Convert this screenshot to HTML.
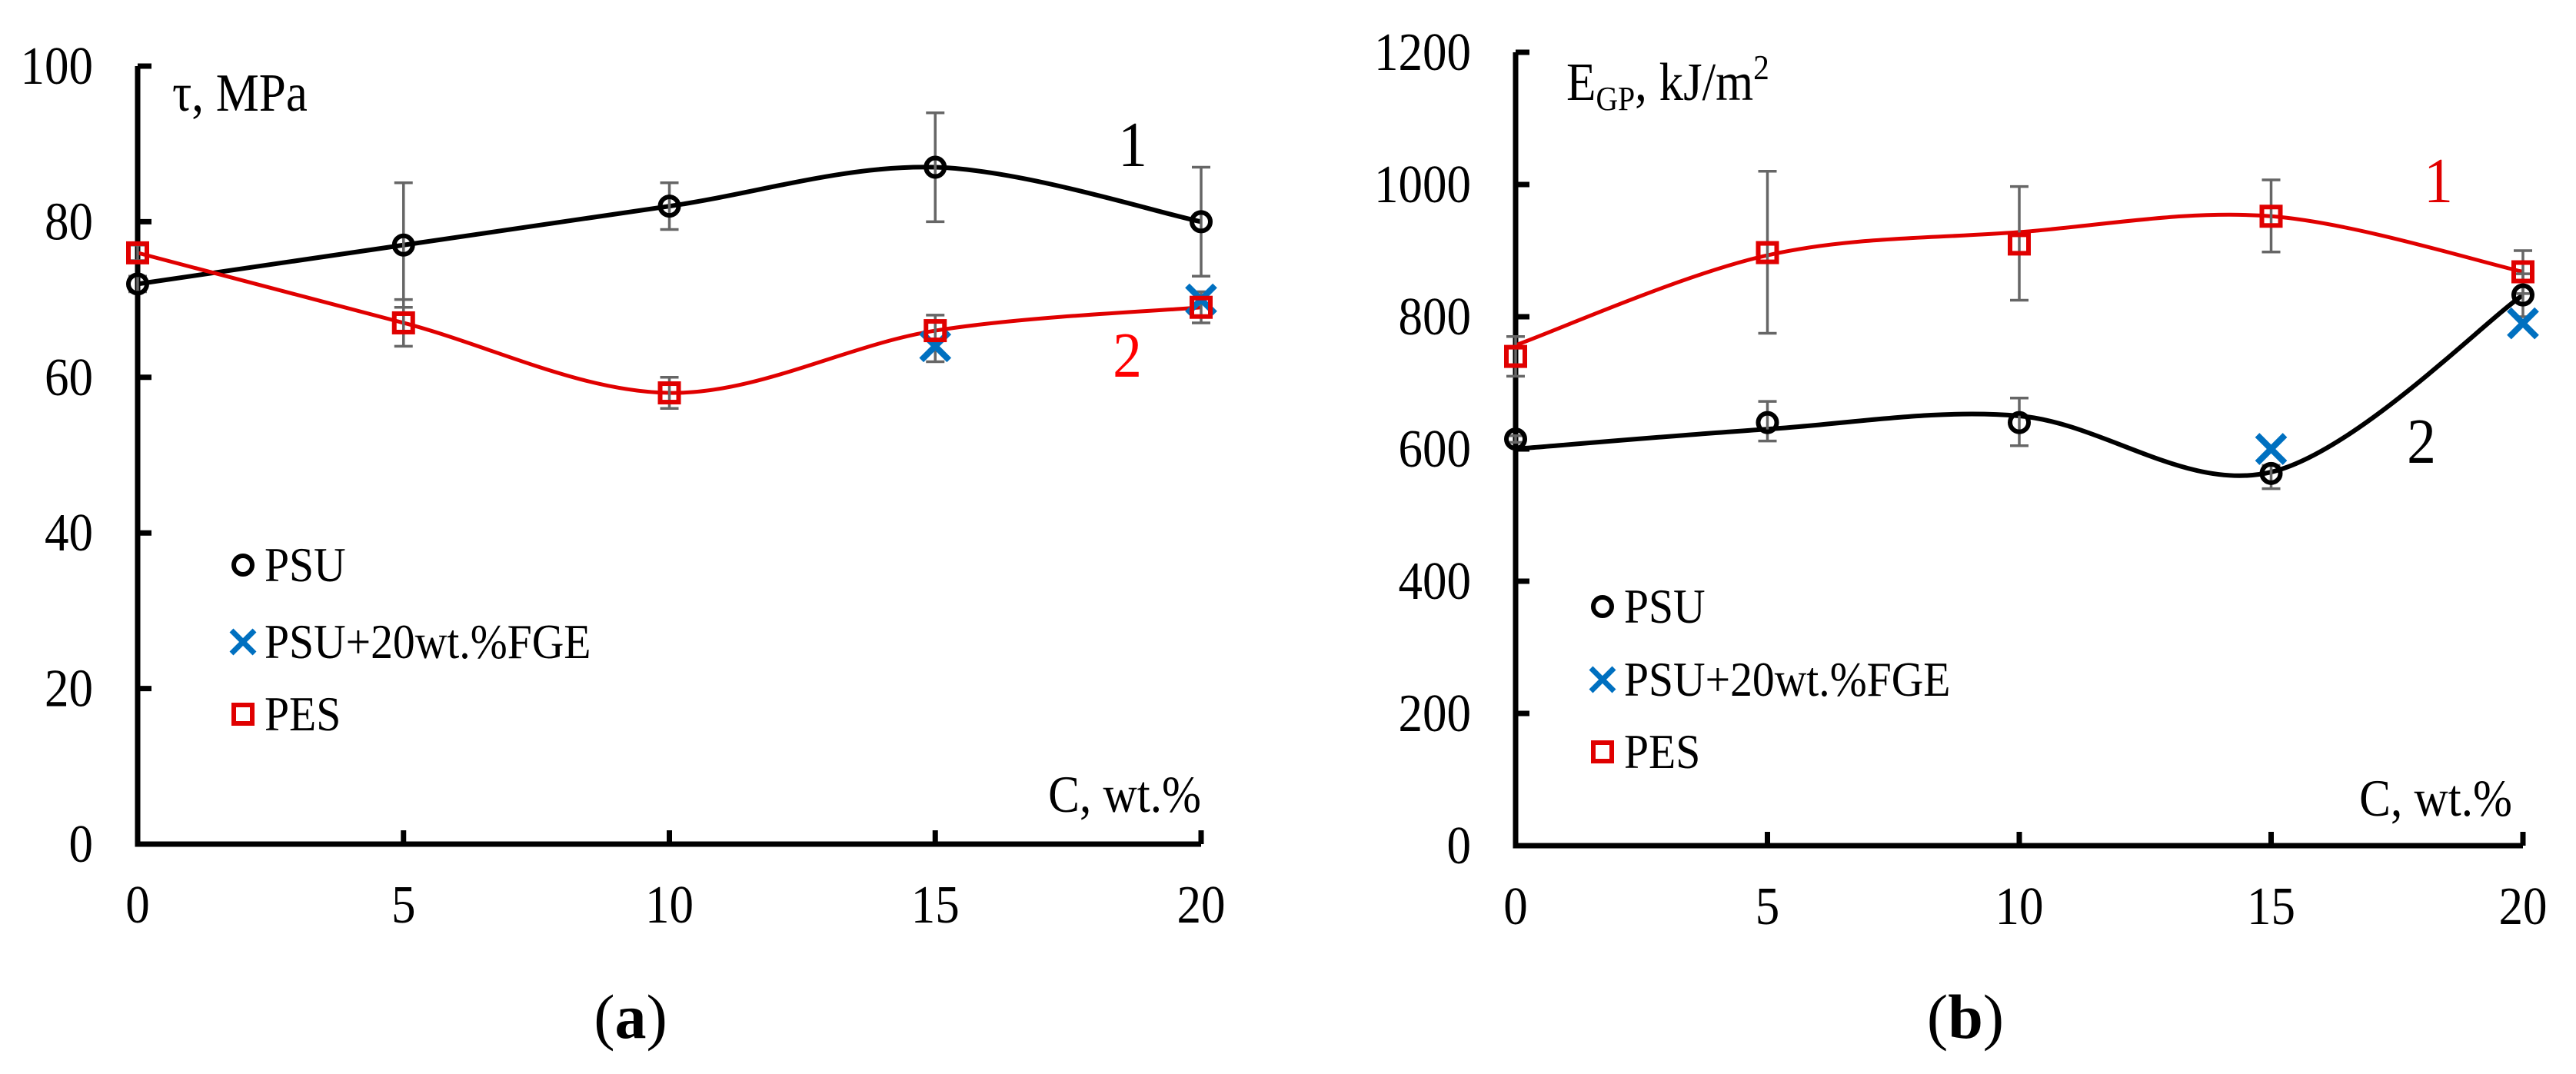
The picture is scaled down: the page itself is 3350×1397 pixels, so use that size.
<!DOCTYPE html>
<html><head><meta charset="utf-8"><style>
html,body{margin:0;padding:0;background:#fff;overflow:hidden;}
svg{display:block;}
text{font-family:"Liberation Serif",serif;}
</style></head><body>
<svg id="chart" width="3350" height="1397" viewBox="0 0 3350 1397" xmlns="http://www.w3.org/2000/svg"></svg>
<script>
const xCats = [0, 5, 10, 15, 20];
// Panel a
const aTicksY = [0, 20, 40, 60, 80, 100];
const aPSU = [72, 77, 82, 87, 80];
const aPSUlo = [71, 69, 79, 80, 73];
const aPSUhi = [73, 85, 85, 94, 87];
const aPSUtrend = [72, 77, 82, 87, 80];
const aPES = [76, 67, 58, 66, 69];
const aPESlo = [75, 64, 56, 62, 67];
const aPEShi = [77, 70, 60, 68, 71];
const aPEStrend = [76, 67, 58, 66, 69];
const aFGEx = [15, 20];
const aFGE = [64, 70];
// Panel b
const bTicksY = [0, 200, 400, 600, 800, 1000, 1200];
const bPSU = [615, 640, 640, 563, 833];
const bPSUlo = [610, 612, 605, 540, 800];
const bPSUhi = [620, 672, 677, 575, 865];
const bPSUtrend = [600, 630, 650, 565, 833];
const bPES = [740, 897, 910, 952, 868];
const bPESlo = [710, 775, 825, 898, 835];
const bPEShi = [770, 1020, 997, 1007, 900];
const bPEStrend = [757, 893, 928, 952, 868];
const bFGEx = [15, 20];
const bFGE = [600, 790];

const NS = "http://www.w3.org/2000/svg";
const svg = document.getElementById('chart');
const SX = 0.9;
function el(tag, attrs, parent) {
  const e = document.createElementNS(NS, tag);
  for (const k in attrs) e.setAttribute(k, attrs[k]);
  (parent || svg).appendChild(e);
  return e;
}
function txt(x, y, s, size, anchor, fill, parent) {
  const t = el('text', {x: x / SX, y: y, 'font-size': size, 'text-anchor': anchor || 'start', fill: fill || '#000', transform: `scale(${SX},1)`}, parent);
  t.textContent = s;
  return t;
}
function catmull(pts) {
  let d = `M${pts[0][0]},${pts[0][1]}`;
  for (let i = 0; i < pts.length - 1; i++) {
    const p0 = pts[Math.max(0, i - 1)], p1 = pts[i], p2 = pts[i + 1], p3 = pts[Math.min(pts.length - 1, i + 2)];
    const c1x = p1[0] + (p2[0] - p0[0]) / 6, c1y = p1[1] + (p2[1] - p0[1]) / 6;
    const c2x = p2[0] - (p3[0] - p1[0]) / 6, c2y = p2[1] - (p3[1] - p1[1]) / 6;
    d += ` C${c1x},${c1y} ${c2x},${c2y} ${p2[0]},${p2[1]}`;
  }
  return d;
}
function cross(x, y, h, w, parent) {
  return el('path', {d:`M${x-h},${y-h} L${x+h},${y+h} M${x-h},${y+h} L${x+h},${y-h}`, stroke:'#0070c0', 'stroke-width':w, fill:'none'}, parent);
}
function circ(x, y, parent) {
  return el('circle', {cx:x, cy:y, r:12, fill:'none', stroke:'#000', 'stroke-width':6}, parent);
}
function sq(x, y, parent) {
  return el('rect', {x:x-12, y:y-12, width:24, height:24, fill:'none', stroke:'#e00000', 'stroke-width':6}, parent);
}
function panel(cfg) {
  const g = el('g', {});
  
  
  const X = v => cfg.x0 + (cfg.x1 - cfg.x0) * v / 20;
  const Y = v => cfg.y0 - (cfg.y0 - cfg.y1) * v / cfg.ymax;
  const ax = el('path', {d:`M${cfg.x0},${cfg.y1} V${cfg.y0} H${cfg.x1}`, fill:'none', stroke:'#000', 'stroke-width':7}, g);
  
  
  cfg.ticksY.forEach(t => {
    const y = Y(t);
    const tk = el('line', {x1:cfg.x0, x2:cfg.x0 + 18, y1:y, y2:y, stroke:'#000', 'stroke-width':7}, g);
    
    
    const tx = txt(cfg.x0 - 58, y + 23, String(t), 70, 'end', '#000', g);
    
    
  });
  xCats.forEach(c => {
    const x = X(c);
    const tk = el('line', {x1:x, x2:x, y1:cfg.y0 - 18, y2:cfg.y0, stroke:'#000', 'stroke-width':7}, g);
    
    
    const tx = txt(x, cfg.y0 + 102, String(c), 70, 'middle', '#000', g);
    
    
  });
  const c1 = el('path', {d:catmull(xCats.map((c,i)=>[X(c),Y(cfg.psuT[i])])), fill:'none', stroke:'#000', 'stroke-width':6}, g);
  
  
  const c2 = el('path', {d:catmull(xCats.map((c,i)=>[X(c),Y(cfg.pesT[i])])), fill:'none', stroke:'#e00000', 'stroke-width':5}, g);
  
  
  function ebars(lo, hi, nm) {
    xCats.forEach((c, i) => {
      const x = X(c);
      const e = el('path', {d:`M${x},${Y(lo[i])} V${Y(hi[i])} M${x-12},${Y(lo[i])} H${x+12} M${x-12},${Y(hi[i])} H${x+12}`, stroke:'#666', 'stroke-width':3.5, fill:'none'}, g);
      
      
    });
  }
  ebars(cfg.psuLo, cfg.psuHi, 'psu-error-bar');
  ebars(cfg.pesLo, cfg.pesHi, 'pes-error-bar');
  cfg.fgeX.forEach((c, i) => {
    const m = cross(X(c), Y(cfg.fge[i]), 18, 8, g);
    
    
  });
  xCats.forEach((c, i) => {
    const m = circ(X(c), Y(cfg.psu[i]), g);
    
    
  });
  xCats.forEach((c, i) => {
    const m = sq(X(c), Y(cfg.pes[i]), g);
    
    
  });
  const lg = el('g', {}, g);
  
  
  const labs = ['PSU', 'PSU+20wt.%FGE', 'PES'];
  labs.forEach((l, i) => {
    const y = cfg.legY[i];
    let m;
    if (i === 0) m = circ(cfg.legX, y, lg);
    else if (i === 1) m = cross(cfg.legX, y, 15, 7, lg);
    else m = sq(cfg.legX, y, lg);
    
    
    const t = txt(cfg.legX + 28, y + 21, l, 64, 'start', '#000', lg);
    
    
  });
  const xt = txt(cfg.xtX, cfg.xtY, 'C, wt.%', 68, 'end', '#000', g);
  
  
  cfg.curveLabels.forEach(cl => {
    const t = txt(cl.x, cl.y, cl.t, 84, 'middle', cl.c, g);
    
    
  });
  const sub = el('text', {x:cfg.subX, y:1350, 'font-size':82, 'text-anchor':'middle'}, g);
  sub.innerHTML = '(<tspan font-weight="bold">' + cfg.sub + '</tspan>)';
  
  
  return g;
}
panel({name:'panel-a', x0:179, x1:1562, y0:1098, y1:86, ymax:100, ticksY:aTicksY,
  psu:aPSU, psuLo:aPSUlo, psuHi:aPSUhi, psuT:aPSUtrend, pes:aPES, pesLo:aPESlo, pesHi:aPEShi, pesT:aPEStrend,
  fgeX:aFGEx, fge:aFGE, legX:316, legY:[735,835,929], xtX:1562, xtY:1056,
  curveLabels:[{t:'1', x:1473, y:216, c:'#000'}, {t:'2', x:1466, y:490, c:'#ff0000'}], subX:820, sub:'a'});
panel({name:'panel-b', x0:1971, x1:3281, y0:1100, y1:68, ymax:1200, ticksY:bTicksY,
  psu:bPSU, psuLo:bPSUlo, psuHi:bPSUhi, psuT:bPSUtrend, pes:bPES, pesLo:bPESlo, pesHi:bPEShi, pesT:bPEStrend,
  fgeX:bFGEx, fge:bFGE, legX:2084, legY:[789,884,978], xtX:3267, xtY:1061,
  curveLabels:[{t:'1', x:3171, y:263, c:'#e00000'}, {t:'2', x:3149, y:602, c:'#000'}], subX:2556, sub:'b'});
const ta = el('text', {x:224 / SX, y:144, 'font-size':70, transform:`scale(${SX},1)`});
ta.textContent = 'τ, MPa';


const tb = el('text', {x:2037 / SX, y:130, 'font-size':70, transform:`scale(${SX},1)`});
tb.innerHTML = 'E<tspan font-size="44" dy="13">GP</tspan><tspan dy="-13">, kJ/m</tspan><tspan font-size="46" dy="-27">2</tspan>';


</script>
</body></html>
